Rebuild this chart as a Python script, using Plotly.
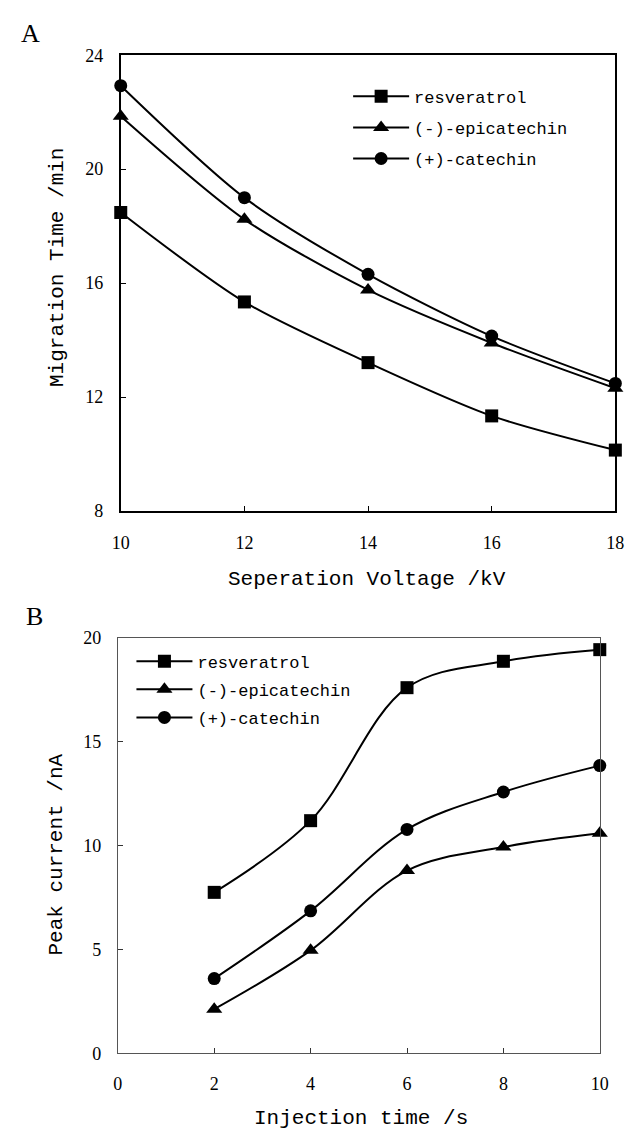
import plotly.graph_objects as go

# ---- Data ----
voltage_kv = [10, 12, 14, 16, 18]
mt_resveratrol = [18.48, 15.34, 13.21, 11.34, 10.14]
mt_epicatechin = [21.86, 18.24, 15.76, 13.90, 12.31]
mt_catechin = [22.93, 19.00, 16.31, 14.14, 12.48]

inj_time_s = [2, 4, 6, 8, 10]
pc_resveratrol = [7.75, 11.2, 17.6, 18.87, 19.43]
pc_epicatechin = [2.13, 4.96, 8.8, 9.93, 10.59]
pc_catechin = [3.6, 6.86, 10.78, 12.58, 13.85]

series_names = ["resveratrol", "(-)-epicatechin", "(+)-catechin"]
symbols = ["square", "triangle-up", "circle"]

W, H = 636, 1142
def px_x(p): return p / W
def px_y(p): return 1 - p / H

MONO = "Liberation Mono"
SERIF = "Liberation Serif"

fig = go.Figure()

A_vals = [mt_resveratrol, mt_epicatechin, mt_catechin]
B_vals = [pc_resveratrol, pc_epicatechin, pc_catechin]
msizes = [13, 14, 13]

for i, (name, vals, sym, ms) in enumerate(zip(series_names, A_vals, symbols, msizes)):
    fig.add_trace(go.Scatter(
        x=voltage_kv, y=vals, name=name, mode="lines+markers",
        line=dict(color="black", width=2, shape="spline", smoothing=0.8),
        marker=dict(symbol=sym, size=ms, color="black"),
        xaxis="x", yaxis="y", legend="legend", legendgroup=f"a{i}",
        cliponaxis=False))

for i, (name, vals, sym, ms) in enumerate(zip(series_names, B_vals, symbols, msizes)):
    fig.add_trace(go.Scatter(
        x=inj_time_s, y=vals, name=name, mode="lines+markers",
        line=dict(color="black", width=2, shape="spline", smoothing=1.0),
        marker=dict(symbol=sym, size=ms, color="black"),
        xaxis="x2", yaxis="y2", legend="legend2", legendgroup=f"b{i}",
        cliponaxis=False))

tickfont = dict(family=SERIF, size=18, color="black")

fig.update_layout(
    width=W, height=H,
    margin=dict(l=0, r=0, t=0, b=0),
    paper_bgcolor="white", plot_bgcolor="white",
    xaxis=dict(domain=[px_x(115), px_x(624)], range=[10, 18],
               tickvals=[10, 12, 14, 16, 18], anchor="y",
               showline=True, linecolor="black", linewidth=2, mirror=True,
               ticks="inside", ticklen=5, tickcolor="black",
               showgrid=False, zeroline=False, tickfont=tickfont,
               ticklabelstandoff=14),
    yaxis=dict(domain=[px_y(510), px_y(46)], range=[8, 24],
               tickvals=[8, 12, 16, 20, 24], anchor="x",
               showline=True, linecolor="black", linewidth=2, mirror=True,
               ticks="inside", ticklen=5, tickcolor="black",
               showgrid=False, zeroline=False, tickfont=tickfont,
               ticklabelstandoff=12),
    xaxis2=dict(domain=[px_x(112), px_x(608)], range=[0, 10],
                tickvals=[0, 2, 4, 6, 8, 10], anchor="y2",
                showline=True, linecolor="#555555", linewidth=1, mirror=True,
                ticks="inside", ticklen=5, tickcolor="#333333",
                showgrid=False, zeroline=False, tickfont=tickfont,
                ticklabelstandoff=14),
    yaxis2=dict(domain=[px_y(1062), px_y(639)], range=[0, 20],
                tickvals=[0, 5, 10, 15, 20], anchor="x2",
                showline=True, linecolor="#555555", linewidth=1, mirror=True,
                ticks="inside", ticklen=5, tickcolor="#333333",
                showgrid=False, zeroline=False, tickfont=tickfont,
                ticklabelstandoff=12),
    legend=dict(x=px_x(349), y=px_y(70), xanchor="left", yanchor="top",
                bgcolor="rgba(0,0,0,0)", borderwidth=0,
                font=dict(family=MONO, size=17, color="black"),
                tracegroupgap=6, itemwidth=56),
    legend2=dict(x=px_x(126), y=px_y(645), xanchor="left", yanchor="top",
                 bgcolor="rgba(0,0,0,0)", borderwidth=0,
                 font=dict(family=MONO, size=17, color="black"),
                 tracegroupgap=3, itemwidth=56),
    showlegend=True,
)

ann_font = dict(family=MONO, size=21, color="black")
fig.add_annotation(text="Seperation Voltage /kV", xref="paper", yref="paper",
                   x=px_x(368), y=px_y(580), showarrow=False, font=ann_font,
                   xanchor="center", yanchor="middle")
fig.add_annotation(text="Migration Time /min", xref="paper", yref="paper",
                   x=px_x(50), y=px_y(262), showarrow=False, font=ann_font,
                   textangle=-90, xanchor="center", yanchor="middle")
fig.add_annotation(text="Injection time /s", xref="paper", yref="paper",
                   x=px_x(362), y=px_y(1128), showarrow=False, font=ann_font,
                   xanchor="center", yanchor="middle")
fig.add_annotation(text="Peak current /nA", xref="paper", yref="paper",
                   x=px_x(49), y=px_y(860), showarrow=False, font=ann_font,
                   textangle=-90, xanchor="center", yanchor="middle")
fig.add_annotation(text="A", xref="paper", yref="paper",
                   x=px_x(22), y=px_y(24), showarrow=False,
                   font=dict(family=SERIF, size=26, color="black"),
                   xanchor="center", yanchor="middle")
fig.add_annotation(text="B", xref="paper", yref="paper",
                   x=px_x(26), y=px_y(617), showarrow=False,
                   font=dict(family=SERIF, size=26, color="black"),
                   xanchor="center", yanchor="middle")

fig.write_html("out.html", config={"displayModeBar": False},
               post_script="document.body.style.margin='0';document.body.style.overflow='hidden';")
